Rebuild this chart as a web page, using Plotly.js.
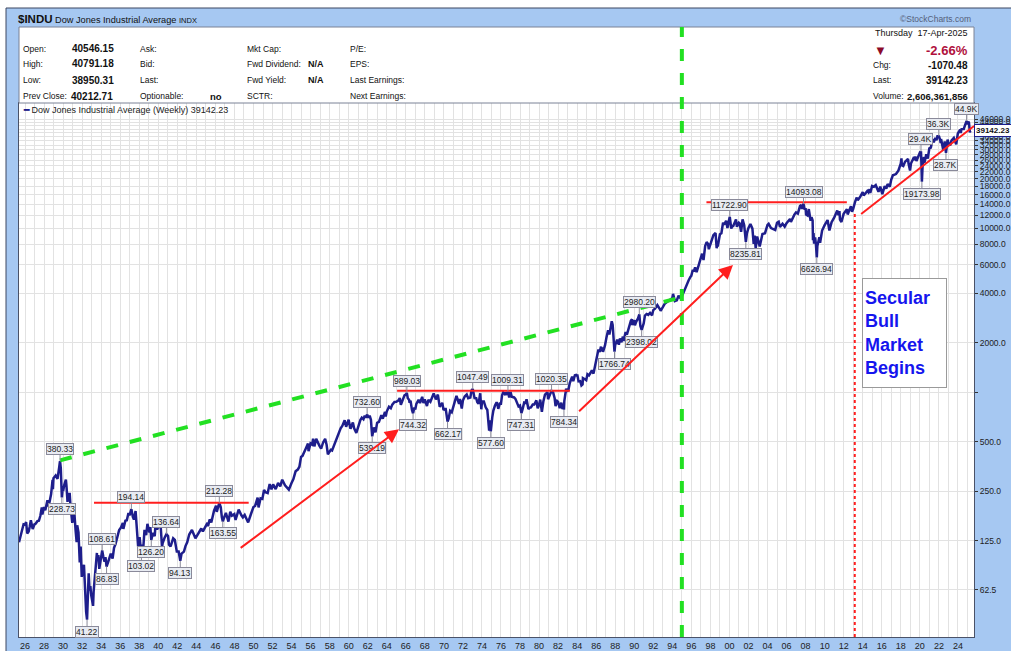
<!DOCTYPE html>
<html><head><meta charset="utf-8">
<script src="https://cdn.plot.ly/plotly-3.0.1.min.js"></script>
<style>html,body{margin:0;padding:0;background:#fff;}#chart{width:1011px;height:651px;}</style>
</head><body><div id="chart"></div>
<script>
// ---------- DATA (weekly closes) ----------
const weekDates = [
'1925-05-15','1925-07-03','1925-08-28','1925-10-09','1925-11-06','1925-12-31','1926-02-12','1926-03-26','1926-05-21','1926-07-02',
'1926-08-13','1926-10-22','1926-12-31','1927-02-11','1927-04-22','1927-06-17','1927-08-12','1927-10-07','1927-10-28','1927-12-30',
'1928-02-17','1928-05-11','1928-06-15','1928-08-03','1928-09-28','1928-11-23','1928-12-07','1928-12-28','1929-02-08','1929-03-22',
'1929-05-31','1929-06-28','1929-08-02','1929-08-30','1929-09-06','1929-10-04','1929-10-25','1929-11-15','1929-12-13','1930-01-03',
'1930-02-14','1930-04-18','1930-05-09','1930-06-20','1930-07-18','1930-09-12','1930-10-10','1930-12-19','1931-01-16','1931-02-27',
'1931-04-24','1931-06-05','1931-06-26','1931-08-14','1931-10-02','1931-11-06','1931-12-18','1932-01-15','1932-03-11','1932-04-22',
'1932-06-03','1932-07-08','1932-08-05','1932-09-09','1932-10-14','1932-11-11','1932-12-16','1933-02-24','1933-03-17','1933-04-28',
'1933-06-09','1933-07-21','1933-07-28','1933-09-15','1933-10-20','1933-12-15','1934-02-09','1934-03-23','1934-05-11','1934-06-15',
'1934-07-27','1934-09-21','1934-11-23','1935-01-04','1935-03-15','1935-05-10','1935-07-05','1935-09-13','1935-11-22','1936-01-31',
'1936-04-10','1936-05-01','1936-07-17','1936-09-11','1936-11-13','1936-12-24','1937-02-12','1937-03-05','1937-04-30','1937-06-11',
'1937-08-13','1937-09-24','1937-10-22','1937-11-19','1938-01-14','1938-03-25','1938-04-22','1938-05-27','1938-07-22','1938-09-23',
'1938-11-11','1939-01-27','1939-03-03','1939-04-07','1939-06-09','1939-08-18','1939-09-15','1939-11-17','1940-01-05','1940-04-05',
'1940-05-24','1940-06-14','1940-08-30','1940-11-08','1941-01-10','1941-02-14','1941-04-18','1941-07-25','1941-09-26','1941-12-12',
'1942-02-20','1942-04-24','1942-06-12','1942-09-11','1942-11-13','1943-01-15','1943-04-02','1943-07-16','1943-11-26','1944-02-11',
'1944-07-07','1944-09-08','1944-12-15','1945-03-02','1945-03-23','1945-05-25','1945-07-27','1945-11-09','1946-01-25','1946-02-22',
'1946-05-31','1946-07-26','1946-09-06','1946-10-11','1946-11-29','1947-02-07','1947-05-16','1947-07-25','1947-09-26','1947-12-26',
'1948-02-13','1948-06-11','1948-09-24','1948-11-19','1949-01-28','1949-06-10','1949-09-30','1949-12-30','1950-03-03','1950-06-09',
'1950-07-14','1950-09-29','1950-12-08','1951-02-09','1951-04-06','1951-06-29','1951-09-14','1951-11-23','1952-01-25','1952-05-02',
'1952-08-01','1952-10-24','1952-12-31','1953-01-09','1953-04-24','1953-06-19','1953-09-18','1953-12-31','1954-03-12','1954-06-04',
'1954-08-27','1954-10-29','1954-12-31','1955-02-25','1955-04-22','1955-06-24','1955-09-23','1955-10-14','1955-12-30','1956-03-02',
'1956-04-06','1956-05-25','1956-08-03','1956-10-26','1956-12-07','1957-02-08','1957-04-26','1957-07-12','1957-09-06','1957-10-25',
'1957-12-27','1958-02-14','1958-04-04','1958-06-27','1958-09-05','1958-12-31','1959-02-27','1959-05-01','1959-07-31','1959-09-25',
'1959-12-31','1960-02-26','1960-03-11','1960-06-10','1960-07-29','1960-10-21','1960-12-30','1961-03-24','1961-05-19','1961-07-21',
'1961-09-08','1961-10-20','1961-12-08','1962-01-26','1962-03-16','1962-05-04','1962-05-25','1962-06-22','1962-08-24','1962-10-26',
'1962-12-28','1963-03-08','1963-06-07','1963-08-02','1963-10-25','1963-11-22','1963-12-31','1964-03-27','1964-06-05','1964-07-31',
'1964-10-23','1964-12-31','1965-03-19','1965-05-14','1965-06-25','1965-08-27','1965-11-12','1965-12-31','1966-02-11','1966-03-18',
'1966-05-06','1966-05-27','1966-07-01','1966-08-26','1966-10-07','1966-11-25','1966-12-30','1967-02-10','1967-05-05','1967-06-30',
'1967-09-22','1967-11-10','1967-12-29','1968-03-22','1968-05-17','1968-08-02','1968-10-18','1968-12-06','1969-02-28','1969-05-16',
'1969-07-25','1969-09-05','1969-10-31','1969-12-19','1970-01-23','1970-03-13','1970-05-22','1970-07-03','1970-08-28','1970-10-30',
'1970-12-31','1971-02-26','1971-04-30','1971-08-06','1971-09-10','1971-11-19','1971-12-31','1972-03-10','1972-05-26','1972-07-21',
'1972-10-13','1972-11-24','1973-01-12','1973-03-23','1973-05-25','1973-07-06','1973-08-24','1973-10-26','1973-12-07','1974-01-04',
'1974-03-15','1974-05-24','1974-07-26','1974-08-30','1974-10-04','1974-11-08','1974-12-06','1975-01-31','1975-03-14','1975-05-16',
'1975-07-18','1975-08-29','1975-09-19','1975-11-14','1975-12-31','1976-02-13','1976-03-26','1976-05-28','1976-07-09','1976-08-27',
'1976-09-24','1976-11-12','1976-12-31','1977-02-18','1977-05-20','1977-07-08','1977-09-02','1977-11-04','1977-12-30','1978-02-24',
'1978-04-14','1978-06-09','1978-07-28','1978-09-08','1978-11-17','1978-12-29','1979-02-23','1979-05-04','1979-06-29','1979-09-21',
'1979-11-09','1979-12-31','1980-02-15','1980-04-18','1980-06-13','1980-08-15','1980-11-21','1980-12-12','1981-01-30','1981-04-24',
'1981-06-26','1981-08-21','1981-09-25','1981-11-27','1981-12-31','1982-03-05','1982-05-07','1982-06-18','1982-07-16','1982-08-13',
'1982-08-27','1982-10-15','1982-11-05','1982-12-17','1983-01-28','1983-03-25','1983-05-20','1983-06-24','1983-08-05','1983-10-07',
'1983-11-25','1983-12-30','1984-01-06','1984-02-24','1984-04-27','1984-06-15','1984-07-27','1984-08-10','1984-10-26','1984-12-14',
'1985-01-31','1985-03-29','1985-05-31','1985-07-19','1985-09-20','1985-11-29','1985-12-31','1986-03-28','1986-05-16','1986-07-04',
'1986-07-25','1986-09-05','1986-09-19','1986-12-05','1987-01-30','1987-04-03','1987-05-22','1987-06-26','1987-08-21','1987-09-25',
'1987-10-16','1987-10-23','1987-11-13','1987-12-04','1987-12-31','1988-03-18','1988-05-20','1988-07-01','1988-08-26','1988-10-21',
'1988-11-18','1988-12-30','1989-02-03','1989-03-24','1989-06-02','1989-08-25','1989-10-06','1989-10-13','1989-12-29','1990-01-26',
'1990-03-23','1990-05-25','1990-07-13','1990-08-24','1990-10-12','1990-12-28','1991-02-15','1991-04-19','1991-06-21','1991-08-30',
'1991-11-15','1991-12-31','1992-03-06','1992-06-05','1992-08-21','1992-10-09','1992-12-31','1993-03-12','1993-05-28','1993-08-27',
'1993-10-29','1993-12-31','1994-01-28','1994-04-08','1994-06-24','1994-08-26','1994-11-25','1994-12-30','1995-02-24','1995-04-28',
'1995-06-30','1995-09-15','1995-11-24','1995-12-29','1996-02-16','1996-04-12','1996-05-24','1996-07-19','1996-09-27','1996-12-27',
'1997-02-14','1997-04-11','1997-06-13','1997-08-08','1997-10-03','1997-10-31','1997-12-31','1998-02-27','1998-04-24','1998-07-17',
'1998-08-28','1998-09-25','1998-10-09','1998-12-31','1999-02-26','1999-04-30','1999-06-11','1999-08-27','1999-10-15','1999-12-31',
'2000-01-14','2000-03-10','2000-04-14','2000-05-26','2000-09-08','2000-10-13','2000-12-29','2001-01-26','2001-03-23','2001-05-18',
'2001-07-20','2001-09-21','2001-11-02','2001-12-31','2002-03-15','2002-05-31','2002-07-19','2002-08-23','2002-10-04','2002-11-29',
'2002-12-31','2003-03-07','2003-06-20','2003-09-26','2003-12-31','2004-02-13','2004-05-14','2004-08-13','2004-10-22','2004-12-31',
'2005-03-04','2005-04-22','2005-07-29','2005-10-21','2005-12-30','2006-05-12','2006-06-16','2006-10-27','2006-12-29','2007-03-09',
'2007-05-31','2007-07-20','2007-08-17','2007-10-12','2007-11-23','2007-12-31','2008-01-18','2008-03-14','2008-05-02','2008-07-11',
'2008-08-15','2008-09-26','2008-10-10','2008-10-31','2008-11-21','2008-12-31','2009-01-30','2009-03-06','2009-03-27','2009-06-12',
'2009-07-10','2009-09-25','2009-12-31','2010-04-23','2010-07-02','2010-09-24','2010-12-31','2011-04-29','2011-06-17','2011-07-22',
'2011-08-12','2011-10-07','2011-12-30','2012-05-04','2012-06-01','2012-10-05','2012-11-16','2012-12-31','2013-03-15','2013-05-17',
'2013-06-21','2013-09-20','2013-12-31','2014-02-07','2014-06-27','2014-08-08','2014-09-19','2014-10-17','2014-12-26','2015-03-06',
'2015-05-15','2015-08-28','2015-11-06','2016-01-22','2016-04-22','2016-06-24','2016-08-12','2016-11-04','2016-12-30','2017-03-03',
'2017-06-30','2017-09-29','2017-12-29','2018-01-26','2018-02-09','2018-04-06','2018-06-08','2018-10-05','2018-10-26','2018-12-21',
'2019-01-25','2019-04-26','2019-06-07','2019-07-12','2019-08-23','2019-11-29','2019-12-27','2020-01-31','2020-02-14','2020-02-28',
'2020-03-20','2020-04-17','2020-06-05','2020-06-26','2020-09-04','2020-10-30','2020-12-31','2021-02-26','2021-05-07','2021-06-18',
'2021-08-13','2021-10-01','2021-11-05','2021-12-31','2022-01-07','2022-02-25','2022-03-11','2022-03-25','2022-05-20','2022-06-17',
'2022-08-12','2022-09-30','2022-11-30','2022-12-30','2023-03-10','2023-04-28','2023-07-28','2023-10-27','2023-12-29','2024-03-28',
'2024-04-19','2024-05-17','2024-07-19','2024-08-02','2024-09-27','2024-11-29','2024-12-20','2025-01-31','2025-02-28','2025-03-14',
'2025-03-28','2025-04-04','2025-04-11','2025-04-17'
];
const weekCloses = [
122,130,142,150,157,156,162,138,142,152,
166,147,157,158,164,165,177,199,180,200,
191,220,202,216,240,293,257,300,305,311,
297,333,347,376,380.33,345,301,228.73,256,250,
272,294,271,215,240,240,205,160,172,194,
145,122,155,140,92,115,75,82,89,57,
46,41.22,67,79,62,66,58,50,61,75,
91,105,94,102,84,99,108.61,100,93,99,
86.83,92,101,104,97,113,119,131,145,150,
160,147,165,166,184,178,188,194.14,174,168,
189,150,135,115,131,103.02,118,108,145,135,
158,140,151,126.20,139,133,155,146,152,150,
114,120,130,136.64,133,118,115,129,126,107,
107,94.13,104,107,116,122,136,145,129,135,
148,142,151,160,153,168,161,190,204,187,
212.28,199,173,163.55,172,184,163,187,177,181,
167,193,178,173,179,161,182,200,203,228,
199,226,224,254,246,243,276,256,275,257,
280,267,291,293,271,263,255,280,296,330,
338,352,404,410,425,451,487,438,488,480,
521,468,520,480,472,454,495,520,479,419,
435,446,442,478,510,584,603,624,675,616,
680,612,600,655,603,566,616,677,700,685,
720,700,732.60,700,721,680,611,539.19,610,570,
652,660,726,690,760,711,763,816,800,841,
873,874,890,922,840,893,958,969,989.03,920,
900,864,890,780,744.32,809,786,850,900,860,
938,860,905,825,900,875,950,985,905,968,
815,830,863,780,790,790,662.17,690,770,755,
838,880,950,850,910,797,890,942,970,920,
930,1025,1047.49,922,920,870,851,987,788,880,
880,810,780,678,584,675,577.60,704,773,830,
870,826,793,853,852,960,1000,975,1000,965,
1009.31,930,1005,940,930,912,870,820,831,747.31,
795,866,862,907,790,805,808,842,842,893,
800,839,903,760,878,967,1000,908,948,1020.35,
994,920,825,885,875,800,865,790,832,784.34,
883,993,1051,1020,1030,1140,1200,1245,1170,1270,
1277,1259,1286,1165,1170,1100,1115,1220,1200,1185,
1287,1266,1315,1360,1300,1472,1547,1820,1760,1900,
1780,1880,1760,1930,2158,2390,2250,2420,2709,2570,
2246,1950,1960,1766.74,1939,2090,1950,2130,2017,2183,
2052,2169,2331,2244,2480,2734,2785,2570,2753,2560,
2704,2820,2980.20,2532,2398.02,2629,2934,3000,2960,3044,
2943,3168,3230,3400,3250,3137,3301,3460,3530,3640,
3680,3754,3978,3600,3640,3880,3708,3834,4000,4321,
4556,4800,5048,5117,5500,5500,5762,5400,5872,6560,
6988,6392,7782,8222,8000,7442,7908,8546,9064,9338,
7539,8000,7732,9181,9306,10789,10500,11090,10019,11497,
11722.90,9928,10305,10300,11310,10193,10787,10700,9504,11301,
10415,8235.81,9323,10021,10600,9925,8020,9000,7528,8896,
8341,7740,9200,9313,10453,10627,10012,9825,9757,10783,
10940,10157,10640,10215,10717,11380,10900,12090,12463,12276,
13627,13850,13079,14093.08,12980,13264,12099,11951,13058,11100,
11659,11143,8451,9325,8046,8776,8000,6626.94,7776,8799,
8146,9665,10428,11204,9686,10860,11578,12811,12004,12681,
11269,10900,12218,13038,12119,13610,12589,13104,14515,15354,
14800,15452,16577,15800,16851,16554,17280,16380,18053,17856,
18272,16643,17910,16093,18003,17401,18576,17888,19763,21006,
21350,22405,24719,26617,24190,23933,25317,26447,24688,22445,
24737,26543,25983,27332,25629,28051,28645,28256,29398,25409,
19173.98,24242,27111,25016,28133,26502,30606,30932,34778,33290,
35515,34326,36327,36338,36231,34058,32944,34861,31261,29888,
33761,28726,34590,33147,31910,34098,35459,32418,37690,39807,
37986,40004,40287,39737,42313,44911,42840,44544,43841,41488,
41583,38315,40212,39142.23
];

// Peak / trough tags
const tagDates  = ['1929-09-06','1929-11-15','1932-07-08','1934-02-09','1934-07-27','1937-03-05','1938-03-25','1939-04-07','1940-11-08','1942-04-24',
                   '1946-05-31','1946-10-11','1961-12-08','1962-06-22','1966-02-11','1966-10-07','1970-05-22','1973-01-12','1974-12-06','1976-09-24',
                   '1978-02-24','1981-04-24','1982-08-13','1987-12-04','1990-07-13','1990-10-12','2000-01-14','2001-09-21','2007-10-12','2009-03-06',
                   '2020-02-14','2020-03-20','2021-12-31','2022-09-30','2024-11-29'];
const tagValues = [380.33,228.73,41.22,108.61,86.83,194.14,103.02,126.20,136.64,94.13,
                   212.28,163.55,732.60,539.19,989.03,744.32,662.17,1047.49,577.60,1009.31,
                   747.31,1020.35,784.34,1766.74,2980.20,2398.02,11722.90,8235.81,14093.08,6626.94,
                   29398,19173.98,36338,28726,44911];
const tagTexts  = ['380.33','228.73','41.22','108.61','86.83','194.14','103.02','126.20','136.64','94.13',
                   '212.28','163.55','732.60','539.19','989.03','744.32','662.17','1047.49','577.60','1009.31',
                   '747.31','1020.35','784.34','1766.74','2980.20','2398.02','11722.90','8235.81','14093.08','6626.94',
                   '29.4K','19173.98','36.3K','28.7K','44.9K'];
const tagAbove  = [1,0,0,1,0,1,0,0,1,0, 1,0,1,0,1,0,0,1,0,1, 0,1,0,0,1,0,1,0,1,0, 1,0,1,0,1];

// Right axis ticks
const yTickVals = [62.5,125,250,500,1000,2000,4000,6000,8000,10000,12000,14000,16000,18000,20000,22000,24000,26000,28000,30000,32000,34000,36000,38000,40000,42000,44000,46000];
const yTickText = ['62.5','125.0','250.0','500.0','','2000.0','4000.0','6000.0','8000.0','10000.0','12000.0','14000.0','16000.0','18000.0','20000.0','22000.0','24000.0','26000.0','28000.0','30000.0','32000.0','34000.0','36000.0','38000.0','40000.0','42000.0','44000.0','46000.0'];

// Overlay trend lines (drawn by hand on the original)
const greenTrendDates = ['1929-09-06','1995-01-01'];
const greenTrendValues = [385, 3800];
const resist1Dates = ['1933-04-01','1949-07-01'];  const resist1Values = [212.28, 212.28];
const resist2Dates = ['1965-02-01','1983-04-01'];  const resist2Values = [1020, 1020];
const resist3Dates = ['1997-08-01','2012-05-01'];  const resist3Values = [14400, 14400];
const support4Dates = ['2013-11-01','2025-09-09']; const support4Values = [12180, 41900];
const arrow1Dates = ['1948-07-01','1965-04-15'];   const arrow1Values = [111, 595];
const arrow2Dates = ['1984-01-20','2000-05-15'];   const arrow2Values = [752, 5970];
const greenVLineDate = '1995-01-01';
const redVLineDate = '2013-03-01';

// ---------- LAYOUT GEOMETRY ----------
const L = 19, R = 974, T = 103, B = 637;
const PX = p => (p - L) / (R - L);
const PY = p => (B - p) / (B - T);
const FONT = '"Liberation Sans",Arial,sans-serif';
const NAVY = '#1e1e8c';
const RED = '#ff1e1e';
const GREEN = '#22e022';

function txt(x, y, text, size, opts) {
  return Object.assign({xref:'paper', yref:'paper', x:PX(x), y:PY(y), text:text, showarrow:false,
    xanchor:'left', yanchor:'middle', font:{family:FONT, size:size, color:'#111'}}, opts || {});
}

const traces = [
  {x:weekDates, y:weekCloses, type:'scatter', mode:'lines', line:{color:NAVY, width:2.5}, hoverinfo:'skip'},
  {x:greenTrendDates, y:greenTrendValues, mode:'lines', line:{color:GREEN, width:4, dash:'dash'}, hoverinfo:'skip'},
  {x:resist1Dates, y:resist1Values, mode:'lines', line:{color:RED, width:2}, hoverinfo:'skip'},
  {x:resist2Dates, y:resist2Values, mode:'lines', line:{color:RED, width:2}, hoverinfo:'skip'},
  {x:resist3Dates, y:resist3Values, mode:'lines', line:{color:RED, width:2}, hoverinfo:'skip'},
  {x:support4Dates, y:support4Values, mode:'lines', line:{color:RED, width:2}, hoverinfo:'skip'}
];

const annotations = [];
// title bar
annotations.push(txt(16, 19, '<b><span style="font-size:11.5px">$INDU</span></b> Dow Jones Industrial Average <span style="font-size:7.5px">INDX</span>', 9, {font:{family:FONT,size:9.2,color:'#111'}}));
annotations.push(txt(973, 19, '©StockCharts.com', 8.5, {xanchor:'right', font:{family:FONT,size:8.5,color:'#55607a'}}));
// info box rows
const rowsY = [49, 64, 80, 96];
const col1 = ['Open:','High:','Low:','Prev Close:'];
const col1v = ['40546.15','40791.18','38950.31','40212.71'];
const col2 = ['Ask:','Bid:','Last:','Optionable:'];
const col3 = ['Mkt Cap:','Fwd Dividend:','Fwd Yield:','SCTR:'];
const col4 = ['P/E:','EPS:','Last Earnings:','Next Earnings:'];
for (let i = 0; i < 4; i++) {
  annotations.push(txt(21, rowsY[i], col1[i], 8.5));
  annotations.push(txt(i === 3 ? 69 : 70, rowsY[i], '<b>' + col1v[i] + '</b>', 10));
  annotations.push(txt(138, rowsY[i], col2[i], 8.5));
  annotations.push(txt(245, rowsY[i], col3[i], 8.5));
  annotations.push(txt(348, rowsY[i], col4[i], 8.5));
}
annotations.push(txt(208, 97, '<b>no</b>', 9.5));
annotations.push(txt(306, 64, '<b>N/A</b>', 9));
annotations.push(txt(306, 80, '<b>N/A</b>', 9));
annotations.push(txt(970, 33, 'Thursday  17-Apr-2025', 9, {xanchor:'right'}));
annotations.push(txt(880, 50, '▼', 13, {xanchor:'center', font:{family:FONT,size:13,color:'#8b0a2a'}}));
annotations.push(txt(970, 50, '<b>-2.66%</b>', 13, {xanchor:'right', font:{family:FONT,size:13,color:'#b0103c'}}));
annotations.push(txt(871, 65, 'Chg:', 8.5));
annotations.push(txt(970, 65, '<b>-1070.48</b>', 10, {xanchor:'right'}));
annotations.push(txt(871, 80, 'Last:', 8.5));
annotations.push(txt(970, 80, '<b>39142.23</b>', 10, {xanchor:'right'}));
annotations.push(txt(871, 96, 'Volume:', 8.5));
annotations.push(txt(970, 96, '<b>2,606,361,856</b>', 9.5, {xanchor:'right'}));
// legend line
annotations.push(txt(21, 110, '<span style="color:' + NAVY + '"><b>━</b></span> Dow Jones Industrial Average (Weekly) 39142.23', 9, {font:{family:FONT,size:9,color:'#222'}}));
// peak/trough tags
for (let i = 0; i < tagDates.length; i++) {
  annotations.push({x:tagDates[i], y:Math.log10(tagValues[i]), xref:'x', yref:'y', text:tagTexts[i],
    showarrow:true, arrowhead:0, arrowwidth:1, arrowcolor:'#8a8a9a', ax:0, ay:tagAbove[i] ? -12 : 12, standoff:0,
    font:{family:FONT, size:8.5, color:'#222'}, bgcolor:'#e8ebf2', bordercolor:'#8a8a9a', borderwidth:1, borderpad:0});
}
// red arrows
[[arrow1Dates, arrow1Values], [arrow2Dates, arrow2Values]].forEach(a => {
  annotations.push({x:a[0][1], y:Math.log10(a[1][1]), ax:a[0][0], ay:Math.log10(a[1][0]), xref:'x', yref:'y', axref:'x', ayref:'y',
    text:'', showarrow:true, arrowhead:2, arrowsize:1.4, arrowwidth:2, arrowcolor:RED, standoff:0});
});
// last value on right axis
annotations.push({xref:'paper', yref:'y', x:1.0, y:Math.log10(39142.23), xanchor:'left', yanchor:'middle', showarrow:false,
  text:'<b>39142.23</b>', font:{family:FONT, size:8, color:'#111'}, bgcolor:'#ffffff', bordercolor:NAVY, borderwidth:1, borderpad:1});
// Secular Bull Market Begins box
annotations.push({xref:'paper', yref:'paper', x:PX(862), y:PY(278), xanchor:'left', yanchor:'top', showarrow:false,
  text:'<b>Secular<br>Bull<br>Market<br>Begins</b>', align:'left', valign:'middle', width:79, height:104,
  font:{family:FONT, size:18, color:'#1515ee'}, bgcolor:'#ffffff', bordercolor:'#9a9a9a', borderwidth:1, borderpad:2});

const shapes = [
  {type:'rect', xref:'paper', yref:'paper', x0:PX(0), x1:PX(1011), y0:PY(0), y1:PY(8), fillcolor:'#ffffff', line:{width:0}},
  {type:'rect', xref:'paper', yref:'paper', x0:PX(0), x1:PX(6), y0:PY(0), y1:PY(651), fillcolor:'#ffffff', line:{width:0}},
  {type:'line', xref:'paper', yref:'paper', x0:PX(6), x1:PX(1011), y0:PY(8), y1:PY(8), line:{color:'#3c4660', width:1}},
  {type:'line', xref:'paper', yref:'paper', x0:PX(6), x1:PX(6), y0:PY(8), y1:PY(651), line:{color:'#3c4660', width:1}},
  {type:'rect', xref:'paper', yref:'paper', x0:0, x1:1, y0:PY(103), y1:PY(27), fillcolor:'#ffffff', line:{color:'#7a8296', width:1}},
  {type:'line', xref:'x', yref:'paper', x0:greenVLineDate, x1:greenVLineDate, y0:0, y1:PY(27), line:{color:GREEN, width:4, dash:'dash'}},
  {type:'line', xref:'x', yref:'paper', x0:redVLineDate, x1:redVLineDate, y0:0, y1:PY(213), line:{color:RED, width:2, dash:'dot'}}
];

const layout = {
  width:1011, height:651,
  margin:{l:L, r:1011-R, t:T, b:651-B, pad:0},
  paper_bgcolor:'#a6c8f2', plot_bgcolor:'#ffffff',
  showlegend:false, hovermode:false,
  xaxis:{type:'date', range:['1925-05-15','2025-09-09'], tick0:'1926-01-01', dtick:'M24', tickformat:'%y',
    showgrid:true, gridcolor:'#e2e2e2', gridwidth:1, ticks:'', zeroline:false,
    showline:true, mirror:true, linecolor:'#4a5268', linewidth:1,
    minor:{tick0:'1926-01-01', dtick:'M12', showgrid:true, gridcolor:'#e2e2e2', gridwidth:1},
    tickfont:{family:FONT, size:9, color:'#222'}},
  yaxis:{type:'log', side:'right', range:[Math.log10(32.3), Math.log10(57850)], tickmode:'array',
    tickvals:yTickVals, ticktext:yTickText, showgrid:true, gridcolor:'#e2e2e2', gridwidth:1,
    ticks:'outside', ticklen:3, tickcolor:'#333', zeroline:false,
    showline:true, mirror:true, linecolor:'#4a5268', linewidth:1,
    tickfont:{family:FONT, size:8.5, color:'#222'}},
  shapes:shapes, annotations:annotations
};

Plotly.newPlot('chart', traces, layout, {displayModeBar:false, staticPlot:true});
</script>
</body></html>
